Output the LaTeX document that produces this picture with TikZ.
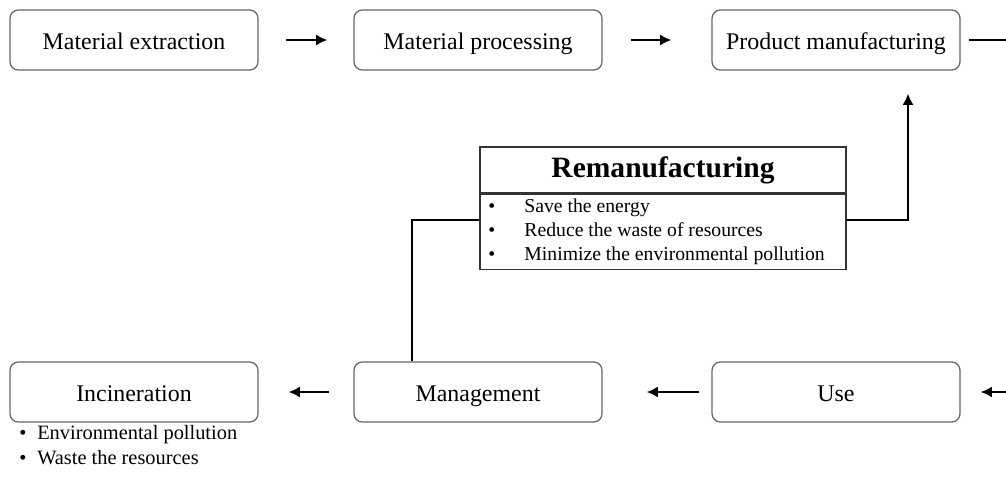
\documentclass[tikz,border=0pt]{standalone}
\usepackage{fontspec}
\setmainfont{Liberation Serif}
\usetikzlibrary{arrows.meta}
\begin{document}
\begin{tikzpicture}%
	[x=0.025cm, y=-0.025cm,
	stage/.style={draw=black!60, line width=0.9pt, rounded corners=6pt, minimum width=6.2cm, minimum height=1.5cm, inner sep=0pt, text height=13.5pt, text depth=0pt, font=\fontsize{17}{20}\selectfont},
	flow/.style={line width=2pt, -{Latex[length=8pt,width=8pt]}},
	loopline/.style={line width=1.6pt},
	remtitle/.style={draw=black!80, line width=0.8pt, minimum width=9.15cm, minimum height=1.15cm, inner sep=0pt, font=\fontsize{21}{24}\selectfont\bfseries},
	rembody/.style={draw=black!80, line width=0.8pt, minimum width=9.15cm, minimum height=1.875cm, inner sep=0pt},
	bullets/.style={align=left, inner sep=0pt, font=\fontsize{14}{17}\selectfont}]
%
\clip (0,0) rectangle (1006,493);
%%
%% Top row
%%
\node[stage] (extraction) at (134,40) {Material extraction};
\node[stage] (processing) at (478,40) {Material processing};
\node[stage] (manufacturing) at (836,40) {Product manufacturing};
%%
%% Bottom row
%%
\node[stage] (incineration) at (134,392) {Incineration};
\node[stage] (management) at (478,392) {Management};
\node[stage] (use) at (836,392) {Use};
%%
%% Remanufacturing
%%
\node[remtitle] (remanufacturing) at (663,170) {Remanufacturing};
\node[rembody, anchor=north] (benefits) at (remanufacturing.south) {};
\node[bullets, anchor=west] (benefitlist) at ([xshift=0.22cm]benefits.west) {%
\makebox[0.9cm][l]{\textbullet}Save the energy\\
\makebox[0.9cm][l]{\textbullet}Reduce the waste of resources\\
\makebox[0.9cm][l]{\textbullet}Minimize the environmental pollution};
%%
\node[bullets, anchor=north west, font=\fontsize{14.5}{17.7}\selectfont] (drawbacks) at (19,425) {%
\makebox[0.45cm][l]{\textbullet}Environmental pollution\\
\makebox[0.45cm][l]{\textbullet}Waste the resources};
%%
\coordinate (topout) at (1020,40);
\coordinate (bottomin) at (1020,392);
%%
%% Drawing the arrows
%%
\draw[flow, shorten <=0.68cm, shorten >=0.65cm] (extraction) -- (processing);
\draw[flow, shorten <=0.7cm, shorten >=1cm] (processing) -- (manufacturing);
\draw[loopline, line width=2pt, shorten <=0.2cm] (manufacturing) -- (topout);
\draw[flow, shorten >=0.5cm] (bottomin) -- (use);
\draw[flow, shorten <=0.3cm, shorten >=1.1cm] (use) -- (management);
\draw[flow, shorten <=0.6cm, shorten >=0.75cm] (management) -- (incineration);
%%
\draw[loopline] ([xshift=-1.65cm]management.north) |- ([yshift=0.3cm]benefits.west);
\draw[flow, line width=1.6pt, shorten >=0.575cm] ([yshift=0.3cm]benefits.east) -| ([xshift=1.8cm]manufacturing.south);
\end{tikzpicture}
\end{document}
